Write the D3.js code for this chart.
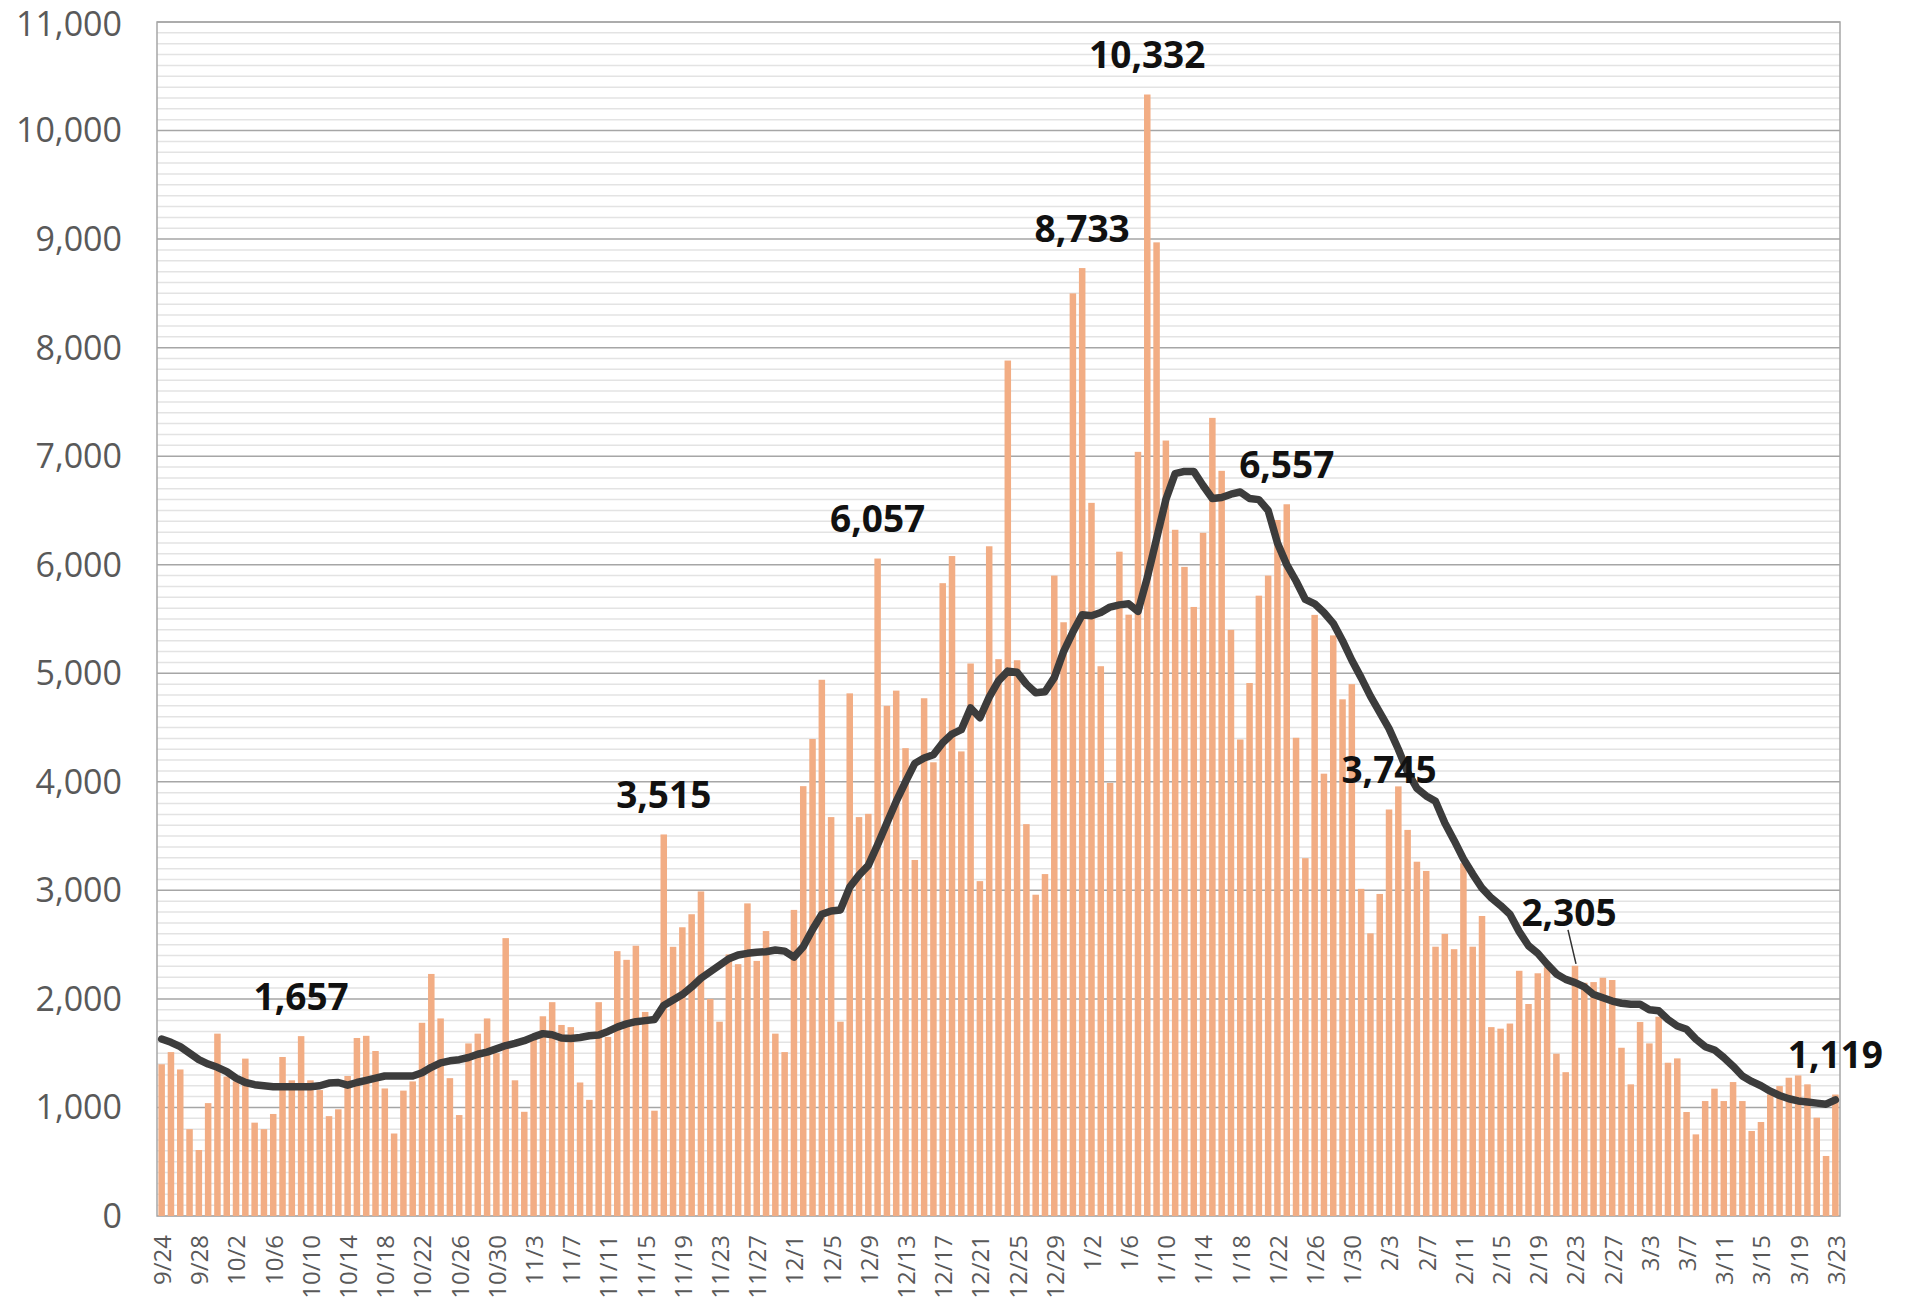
<!DOCTYPE html>
<html>
<head>
<meta charset="utf-8">
<script src="https://cdn.jsdelivr.net/npm/d3@7/dist/d3.min.js"></script>
<style>
    body { margin: 0; background: #fff; }
    text { font-family: "Open Sans", "Noto Sans", sans-serif; }
</style>
</head>
<body>
<div id="chart"></div>
<script>
// daily counts, 9/24 .. 3/23
const daily = [
    1398, 1510, 1350, 800, 608, 1040, 1680, 1285, 1240, 1450,
    860, 800, 940, 1465, 1250, 1657, 1250, 1160, 920, 983,
    1290, 1640, 1660, 1520, 1175, 760, 1155, 1240, 1780, 2230,
    1820, 1270, 930, 1590, 1680, 1820, 1500, 2560, 1250, 960,
    1650, 1840, 1970, 1760, 1740, 1230, 1070, 1970, 1650, 2440,
    2360, 2490, 1880, 970, 3515, 2480, 2660, 2780, 2990, 2000,
    1790, 2410, 2320, 2880, 2350, 2625, 1680, 1510, 2820, 3960,
    4395, 4940, 3675, 1790, 4815, 3675, 3705, 6057, 4700, 4840,
    4310, 3280, 4770, 4180, 5830, 6080, 4280, 5090, 3085, 6170,
    5130, 7881, 5120, 3610, 2960, 3150, 5900, 5470, 8500, 8733,
    6570, 5065, 3990, 6120, 5540, 7040, 10332, 8970, 7144, 6322,
    5980, 5611, 6294, 7353, 6865, 5400, 4390, 4910, 5715, 5900,
    6412, 6557, 4406, 3297, 5538, 4075, 5349, 4760, 4900, 3014,
    2604, 2967, 3745, 3958, 3557, 3264, 3179, 2481, 2599, 2458,
    3250, 2481, 2764, 1740, 1726, 1773, 2259, 1953, 2236, 2292,
    1495, 1325, 2305, 2149, 2155, 2195, 2174, 1550, 1213, 1787,
    1590, 1836, 1412, 1452, 958, 752, 1059, 1173, 1059, 1234,
    1059, 783, 866, 1120, 1197, 1274, 1295, 1213, 906, 553,
    1119
];

// 7-day average line
const avg7 = [
    1630, 1600, 1560, 1500, 1440, 1400, 1370, 1330, 1270, 1230,
    1210, 1200, 1190, 1190, 1190, 1190, 1190, 1200, 1225, 1230,
    1205, 1230, 1250, 1270, 1290, 1290, 1290, 1290, 1320, 1370,
    1410, 1430, 1440, 1460, 1490, 1510, 1540, 1570, 1590, 1615,
    1650, 1680, 1670, 1640, 1635, 1645, 1660, 1668, 1700, 1740,
    1770, 1790, 1800, 1810, 1940, 1990, 2040, 2110, 2190, 2250,
    2310, 2370, 2405, 2420, 2430, 2435, 2450, 2440, 2385, 2480,
    2640, 2780, 2810, 2820, 3030, 3140, 3230, 3420, 3620, 3820,
    4000, 4170, 4220, 4250, 4360, 4440, 4480, 4680, 4590, 4780,
    4930, 5020, 5010, 4900, 4820, 4830, 4960, 5200, 5380, 5540,
    5530, 5560, 5610, 5630, 5640, 5570, 5880, 6240, 6600, 6840,
    6860, 6860, 6730, 6610, 6620, 6650, 6670, 6610, 6600, 6500,
    6200, 6000, 5850, 5680, 5640, 5560, 5460, 5300, 5120, 4960,
    4790, 4640, 4490, 4300, 4090, 3940, 3870, 3820, 3620, 3460,
    3290, 3150, 3020, 2930, 2860, 2780, 2620, 2490, 2420, 2320,
    2230, 2180, 2150, 2110, 2040, 2010, 1980, 1960, 1950, 1950,
    1900, 1890, 1810, 1750, 1720, 1630, 1560, 1530, 1460, 1380,
    1290, 1240, 1200, 1150, 1110, 1080, 1060, 1050, 1040, 1030,
    1070
];

// annotated bars (day index)
const callouts = [15, 54, 77, 99, 106, 121, 132, 152, 180];

const yTicks = d3.range(0, 11001, 1000);
const dates = d3.timeDay.range(new Date(2020, 8, 24), new Date(2021, 2, 24));
const fmtDate = d3.timeFormat("%-m/%-d");

const W = 1906, H = 1303;
const margin = { top: 22, right: 66, bottom: 87, left: 157 };
const width = W - margin.left - margin.right;
const height = H - margin.top - margin.bottom;

const svg = d3.select("#chart").append("svg")
    .attr("width", W)
    .attr("height", H);

const g = svg.append("g")
    .attr("transform", `translate(${margin.left},${margin.top})`);

const x = d3.scaleBand()
    .domain(d3.range(daily.length))
    .range([0, width])
    .paddingInner(0.3)
    .paddingOuter(0.15);

const y = d3.scaleLinear()
    .domain([0, 11000])
    .range([height, 0]);

// minor grid every 100
g.append("g").selectAll("line")
    .data(d3.range(100, 11000, 100).filter(v => v % 1000 !== 0))
    .join("line")
    .attr("x1", 0).attr("x2", width)
    .attr("y1", d => y(d)).attr("y2", d => y(d))
    .attr("stroke", "#e3e3e3")
    .attr("stroke-width", 1.5);

// major grid
g.append("g").selectAll("line")
    .data(yTicks)
    .join("line")
    .attr("x1", 0).attr("x2", width)
    .attr("y1", d => y(d)).attr("y2", d => y(d))
    .attr("stroke", d => d === 0 ? "#d0d0d0" : "#a6a6a6")
    .attr("stroke-width", 1.5);

// frame
g.append("rect")
    .attr("width", width)
    .attr("height", height)
    .attr("fill", "none")
    .attr("stroke", "#a6a6a6")
    .attr("stroke-width", 1.5);

// bars
g.append("g").selectAll("rect")
    .data(daily)
    .join("rect")
    .attr("x", (d, i) => x(i))
    .attr("y", d => y(d))
    .attr("width", x.bandwidth())
    .attr("height", d => height - y(d))
    .attr("fill", "#f2ad84");

// moving average line
const line = d3.line()
    .x((d, i) => x(i) + x.bandwidth() / 2)
    .y(d => y(d));

g.append("path")
    .datum(avg7)
    .attr("d", line)
    .attr("fill", "none")
    .attr("stroke", "#3c3c3c")
    .attr("stroke-width", 7.5)
    .attr("stroke-linejoin", "round")
    .attr("stroke-linecap", "round");

// y axis labels
svg.append("g").selectAll("text")
    .data(yTicks)
    .join("text")
    .attr("x", 122)
    .attr("y", d => margin.top + y(d) + (d === 11000 ? 2 : 0))
    .attr("dy", "0.35em")
    .attr("text-anchor", "end")
    .attr("font-size", 34)
    .attr("fill", "#595959")
    .text(d => d3.format(",")(d));

// x axis labels, every 4th day
svg.append("g").selectAll("text")
    .data(dates.map((d, i) => ({ d, i })).filter(o => o.i % 4 === 0))
    .join("text")
    .attr("transform", o => `translate(${margin.left + x(o.i) + x.bandwidth() / 2 + 1},${margin.top + height + 19}) rotate(-90)`)
    .attr("dy", "0.35em")
    .attr("text-anchor", "end")
    .attr("font-size", 24)
    .attr("fill", "#595959")
    .text(o => fmtDate(o.d));

// value callouts
const labels = g.append("g");
callouts.forEach(i => {
    const cx = x(i) + x.bandwidth() / 2;
    const lift = i === 152 ? 53 : 39;
    const dx = i === 152 ? -6 : 0;
    if (i === 152) {
        labels.append("line")
            .attr("x1", cx - 7).attr("y1", y(daily[i]) - 36)
            .attr("x2", cx + 1).attr("y2", y(daily[i]) - 2)
            .attr("stroke", "#333")
            .attr("stroke-width", 1.5);
    }
    labels.append("text")
        .attr("x", cx + dx)
        .attr("y", y(daily[i]) - lift)
        .attr("dy", "0.35em")
        .attr("text-anchor", "middle")
        .attr("font-size", 37)
        .attr("font-weight", "bold")
        .attr("fill", "#111")
        .text(d3.format(",")(daily[i]));
});
</script>
</body>
</html>
